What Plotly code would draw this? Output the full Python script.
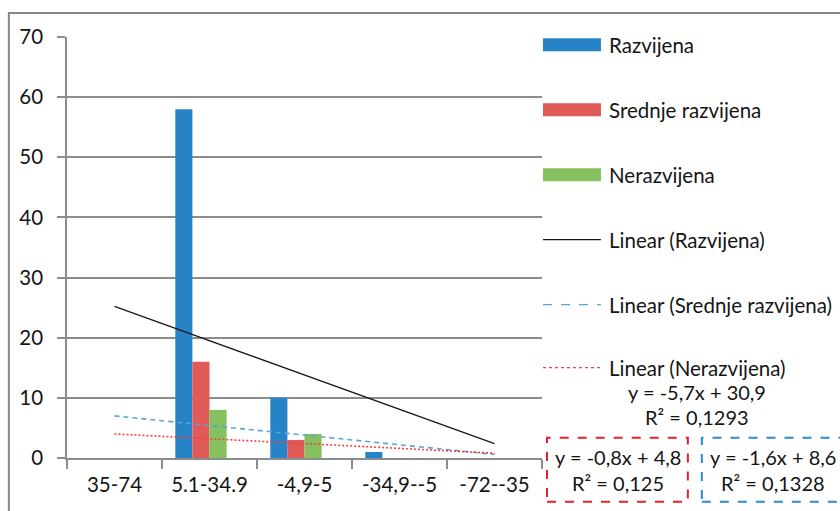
import numpy as np
import plotly.graph_objects as go

categories = ["35-74", "5.1-34.9", "-4,9-5", "-34,9--5", "-72--35"]
razvijena = [0, 58, 10, 1, 0]
srednje = [0, 16, 3, 0, 0]
nerazvijena = [0, 8, 4, 0, 0]
series_names = ["Razvijena", "Srednje razvijena", "Nerazvijena"]
y_ticks = [0, 10, 20, 30, 40, 50, 60, 70]

BLUE = "#2683c6"
RED = "#e05a57"
GREEN = "#85c15e"
GRID = "#8c8c8c"
FONT = "Lato"
TXT = "#151515"

W, H = 840, 511
L, R_EDGE, T, B = 66.5, 542.0, 37.3, 458.3
PW, PH = R_EDGE - L, B - T


def px(x):
    return (x - L) / PW


def py(y):
    return (B - y) / PH


def fit(vals):
    x = np.arange(1, len(vals) + 1)
    y = np.array(vals, dtype=float)
    m, c = np.polyfit(x, y, 1)
    pred = m * x + c
    r2 = 1 - np.sum((y - pred) ** 2) / np.sum((y - y.mean()) ** 2)
    return m, c, r2, pred


def fmt(v, d):
    return f"{v:.{d}f}".replace(".", ",")


fig = go.Figure()
for name, vals, col in zip(series_names, [razvijena, srednje, nerazvijena], [BLUE, RED, GREEN]):
    fig.add_trace(go.Bar(x=categories, y=vals, name=name, marker=dict(color=col, line=dict(width=0)),
                         showlegend=False))
# empty fourth slot (keeps the group layout of the original)
fig.add_trace(go.Bar(x=categories, y=[0] * 5, marker=dict(color="rgba(0,0,0,0)", line=dict(width=0)),
                     showlegend=False, hoverinfo="skip"))

mR, cR, r2R, pR = fit(razvijena)
mS, cS, r2S, pS = fit(srednje)
mN, cN, r2N, pN = fit(nerazvijena)

fig.add_trace(go.Scatter(x=categories, y=pR, mode="lines", line=dict(color="#1a1a1a", width=1.3),
                         showlegend=False))
fig.add_trace(go.Scatter(x=categories, y=pS, mode="lines", line=dict(color="#5aa2da", width=1.6, dash="5px,4px"),
                         showlegend=False))
fig.add_trace(go.Scatter(x=categories, y=pN, mode="lines", line=dict(color="#f04040", width=1.6, dash="2px,2px"),
                         showlegend=False))

shapes = []
annotations = []

# outer chart frame
shapes.append(dict(type="rect", xref="paper", yref="paper", x0=px(8.3), x1=px(900), y0=py(13.3), y1=py(560),
                   line=dict(color="#878787", width=2), fillcolor="rgba(0,0,0,0)", layer="below"))

# custom legend
leg_y = [45, 110, 175, 240, 305, 368]
sx0, sx1, tx = 543, 601, 607
for yy, col in zip(leg_y[:3], [BLUE, RED, GREEN]):
    shapes.append(dict(type="rect", xref="paper", yref="paper", x0=px(sx0), x1=px(sx1), y0=py(yy + 6.5),
                       y1=py(yy - 6.5), fillcolor=col, line=dict(width=0)))
line_styles = [("#1a1a1a", "solid", 1.3), ("#5aa2da", "dash", 1.2), ("#f04040", "dot", 1.2)]
for yy, (col, dsh, wd) in zip(leg_y[3:], line_styles):
    shapes.append(dict(type="line", xref="paper", yref="paper", x0=px(sx0), x1=px(sx1), y0=py(yy), y1=py(yy),
                       line=dict(color=col, dash=dsh, width=wd)))
leg_texts = series_names + ["Linear (" + n + ")" for n in series_names]
for yy, t in zip(leg_y, leg_texts):
    annotations.append(dict(text=t, xref="paper", yref="paper", x=px(tx), y=py(yy), xanchor="left",
                            yanchor="middle", showarrow=False, font=dict(family=FONT, size=20.5, color=TXT)))

# trendline equation labels
def eq(m, c):
    sign = "+" if c >= 0 else "-"
    return f"y = {fmt(m, 1)}x {sign} {fmt(abs(c), 1)}"

eq_items = [
    (697, 392, 417, eq(mR, cR), "R² = " + fmt(r2R, 4)),
    (618, 457, 483, eq(mN, cN), "R² = " + fmt(r2N, 3)),
    (773, 457, 483, eq(mS, cS), "R² = " + fmt(r2S, 4)),
]
for xc, y1, y2, t1, t2 in eq_items:
    for yy, t in ((y1, t1), (y2, t2)):
        annotations.append(dict(text=t, xref="paper", yref="paper", x=px(xc), y=py(yy), xanchor="center",
                                yanchor="middle", showarrow=False, font=dict(family=FONT, size=20, color=TXT)))

shapes.append(dict(type="rect", xref="paper", yref="paper", x0=px(547), x1=px(688), y0=py(502), y1=py(438),
                   line=dict(color="#e8202a", width=2, dash="dash"), fillcolor="rgba(0,0,0,0)"))
shapes.append(dict(type="rect", xref="paper", yref="paper", x0=px(702), x1=px(860), y0=py(502), y1=py(438),
                   line=dict(color="#2e8ad0", width=2, dash="dash"), fillcolor="rgba(0,0,0,0)"))

fig.update_layout(
    width=W, height=H,
    margin=dict(l=L, r=W - R_EDGE, t=T, b=H - B, pad=0),
    paper_bgcolor="white", plot_bgcolor="white",
    barmode="group", bargap=0.28, bargroupgap=0,
    shapes=shapes, annotations=annotations,
    font=dict(family=FONT, color=TXT),
)
fig.update_xaxes(type="category", range=[-0.5, 4.5], tickson="boundaries", ticks="outside", ticklen=9,
                 tickcolor=GRID, tickwidth=1.5, showline=True, linecolor=GRID, linewidth=1.5,
                 showgrid=False, tickfont=dict(family=FONT, size=20.5, color=TXT), ticklabelstandoff=8)
fig.update_yaxes(range=[0, 70], tickvals=y_ticks, ticks="outside", ticklen=8, tickcolor=GRID, tickwidth=1.5,
                 showline=True, linecolor=GRID, linewidth=1.5, showgrid=True, gridcolor=GRID, gridwidth=1.5,
                 zeroline=False, tickfont=dict(family=FONT, size=20.5, color=TXT), ticklabelstandoff=10)

fig.write_html("out.html")
